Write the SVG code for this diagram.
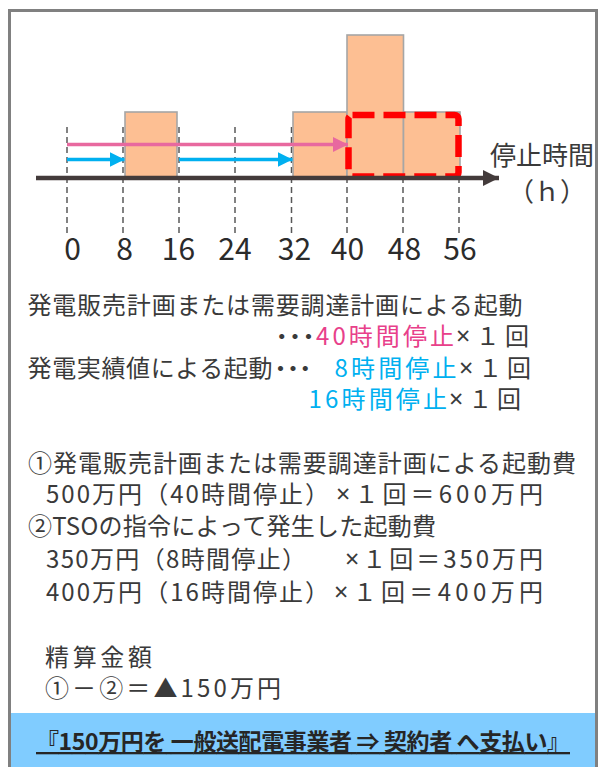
<svg xmlns="http://www.w3.org/2000/svg" width="598" height="767" viewBox="0 0 598 767">
<style>
text{font-family:"Noto Sans CJK JP","Noto Sans",sans-serif;fill:#3a3a3a}
.t{font-size:24px}
.x{font-family:"Noto Sans",sans-serif;font-size:25px}
.pk{fill:#E8408A}
.bl{fill:#00B0F0}
.num{font-size:30px;text-anchor:middle;fill:#2b2b2b}
.bar{fill:#FDBF93;stroke:#A6A6A6;stroke-width:1.6}
.tick{stroke:#595959;stroke-width:1.5;stroke-dasharray:6 4}
</style>
<defs>
<marker id="ab" viewBox="0 0 10 10" refX="10" refY="5" markerWidth="15" markerHeight="15" markerUnits="userSpaceOnUse" orient="auto"><path d="M0,0L10,5L0,10z" fill="#00B0F0"/></marker>
<marker id="ap" viewBox="0 0 10 10" refX="10" refY="5" markerWidth="15" markerHeight="15" markerUnits="userSpaceOnUse" orient="auto"><path d="M0,0L10,5L0,10z" fill="#E8699F"/></marker>
<marker id="ax" viewBox="0 0 10 10" refX="10" refY="5" markerWidth="16" markerHeight="16" markerUnits="userSpaceOnUse" orient="auto"><path d="M0,0L10,5L0,10z" fill="#433B3B"/></marker>
</defs>
<rect id="frame" x="9.5" y="10.5" width="587" height="780" fill="#fff" stroke="#808080" stroke-width="3"/>
<g id="ticks">
<line class="tick" x1="67" y1="127" x2="67" y2="234"/>
<line class="tick" x1="123" y1="127" x2="123" y2="234"/>
<line class="tick" x1="179" y1="127" x2="179" y2="234"/>
<line class="tick" x1="235" y1="127" x2="235" y2="234"/>
<line class="tick" x1="291.5" y1="127" x2="291.5" y2="234"/>
<line class="tick" x1="347" y1="127" x2="347" y2="234"/>
<line class="tick" x1="403" y1="127" x2="403" y2="234"/>
<line class="tick" x1="459" y1="127" x2="459" y2="234"/>
</g>
<g id="bars">
<rect class="bar" x="125" y="112" width="52" height="66"/>
<rect class="bar" x="293" y="112" width="54" height="66"/>
<rect class="bar" x="347" y="35" width="56.5" height="143"/>
<rect class="bar" x="403.5" y="112" width="56.5" height="66"/>
</g>
<rect id="highlight" x="348.5" y="115" width="110" height="61.5" rx="4" fill="none" stroke="#FF0000" stroke-width="6.5" stroke-dasharray="22 9"/>
<g id="connectors">
<line x1="36" y1="178" x2="499" y2="178" stroke="#433B3B" stroke-width="4.5" marker-end="url(#ax)"/>
<line x1="67" y1="144.5" x2="348" y2="144.5" stroke="#E8699F" stroke-width="3.5" marker-end="url(#ap)"/>
<line x1="67" y1="159.5" x2="124.5" y2="159.5" stroke="#00B0F0" stroke-width="3.5" marker-end="url(#ab)"/>
<line x1="179" y1="159.5" x2="292.5" y2="159.5" stroke="#00B0F0" stroke-width="3.5" marker-end="url(#ab)"/>
</g>
<g id="axis-labels">
<text x="542" y="165" style="font-size:26px;text-anchor:middle">停止時間</text>
<text x="547" y="200.5" style="font-size:26px;text-anchor:middle">（ｈ）</text>
<text class="num" x="72.5" y="260">0</text>
<text class="num" x="124.5" y="260">8</text>
<text class="num" x="178.5" y="260">16</text>
<text class="num" x="235" y="260">24</text>
<text class="num" x="294.5" y="260">32</text>
<text class="num" x="347.5" y="260">40</text>
<text class="num" x="404.5" y="260">48</text>
<text class="num" x="460" y="260">56</text>
</g>
<g id="starts">
<text class="t" x="27.5" y="313.5" textLength="495" lengthAdjust="spacing">発電販売計画または需要調達計画による起動</text>
<text class="t" x="269.7" y="345" letter-spacing="-10.6">・・・</text>
<text class="t pk" x="316" y="345" textLength="138" lengthAdjust="spacing">40時間停止</text>
<text class="t" x="456" y="345" textLength="73" lengthAdjust="spacing"><tspan class="x">×</tspan>１回</text>
<text class="t" x="27.5" y="376.5" textLength="245" lengthAdjust="spacing">発電実績値による起動</text>
<text class="t" x="268.5" y="376.5" letter-spacing="-11.6">・・・</text>
<text class="t bl" x="334.5" y="376.5" textLength="122" lengthAdjust="spacing">8時間停止</text>
<text class="t" x="459" y="376.5" textLength="72" lengthAdjust="spacing"><tspan class="x">×</tspan>１回</text>
<text class="t bl" x="308.5" y="408" textLength="138.5" lengthAdjust="spacing">16時間停止</text>
<text class="t" x="449" y="408" textLength="72" lengthAdjust="spacing"><tspan class="x">×</tspan>１回</text>
</g>
<g id="costs">
<text class="t" x="28" y="471.5" textLength="548" lengthAdjust="spacing">①発電販売計画または需要調達計画による起動費</text>
<text class="t" x="46" y="503" textLength="283" lengthAdjust="spacing">500万円（40時間停止）</text>
<text class="t" x="336" y="503" textLength="207" lengthAdjust="spacing"><tspan class="x">×</tspan>１回＝600万円</text>
<text class="t" x="28" y="535" textLength="408" lengthAdjust="spacing">②TSOの指令によって発生した起動費</text>
<text class="t" x="46" y="568" textLength="260" lengthAdjust="spacing">350万円（8時間停止）</text>
<text class="t" x="345" y="568" textLength="198" lengthAdjust="spacing"><tspan class="x">×</tspan>１回＝350万円</text>
<text class="t" x="46" y="600.5" textLength="283" lengthAdjust="spacing">400万円（16時間停止）</text>
<text class="t" x="334" y="600.5" textLength="209" lengthAdjust="spacing"><tspan class="x">×</tspan>１回＝400万円</text>
</g>
<g id="settlement">
<text class="t" x="45" y="665.7" textLength="107" lengthAdjust="spacing">精算金額</text>
<text class="t" x="45" y="696.5" textLength="236" lengthAdjust="spacing">①－②＝▲150万円</text>
</g>
<g id="result">
<rect x="11" y="713" width="584" height="56" fill="#80CCFF"/>
<text x="36" y="750" style="font-size:23px;font-weight:bold;fill:#262626;text-decoration:underline" textLength="534" lengthAdjust="spacing">『150万円を 一般送配電事業者 ⇒ 契約者 へ支払い』</text>
</g>
</svg>
